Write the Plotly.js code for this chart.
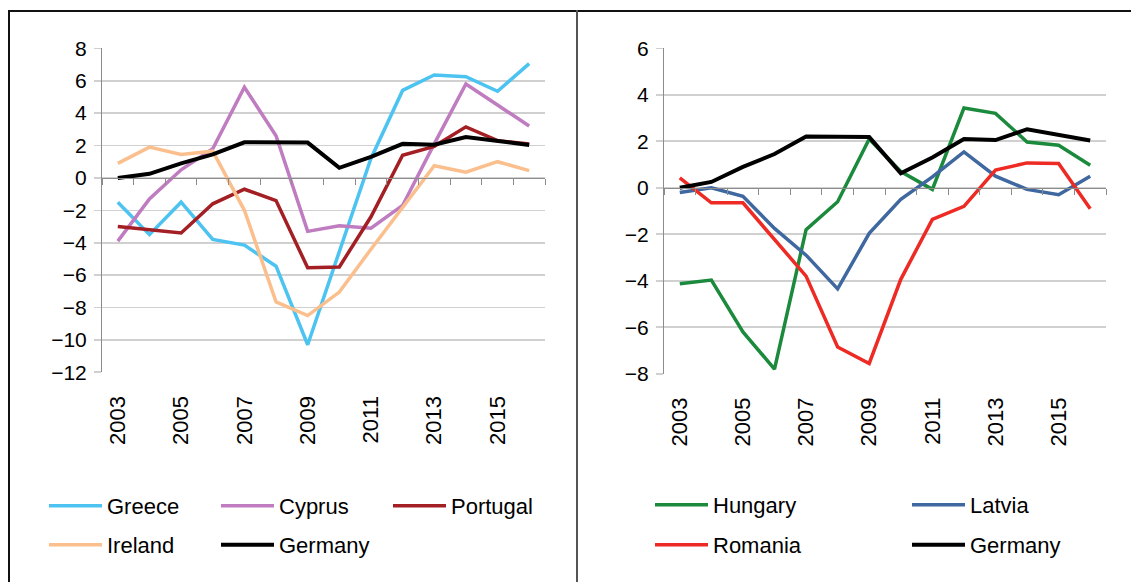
<!DOCTYPE html>
<html>
<head>
<meta charset="utf-8">
<script src="https://cdn.plot.ly/plotly-3.0.1.min.js"></script>
<style>
  html, body { margin: 0; padding: 0; background: #fff; }
  #wrap { position: relative; width: 1131px; height: 582px; overflow: hidden; }
  #chart { position: absolute; left: 0; top: 0; width: 1131px; height: 582px; }
  .bd { position: absolute; pointer-events: none; }
</style>
</head>
<body>
<div id="wrap">
  <div id="chart"></div>
  <div class="bd" style="left:8px; top:10px; width:1123px; height:2px; background:#111;"></div>
  <div class="bd" style="left:8px; top:10px; width:2px; height:572px; background:#111;"></div>
  <div class="bd" style="left:576px; top:10px; width:2px; height:572px; background:#555;"></div>
</div>
<script>
// ---- data ----
const years = [2003, 2004, 2005, 2006, 2007, 2008, 2009, 2010, 2011, 2012, 2013, 2014, 2015, 2016];
const yearLabels = ['2003', '2005', '2007', '2009', '2011', '2013', '2015'];
const labelYears = [2003, 2005, 2007, 2009, 2011, 2013, 2015];

const greece   = [-1.5, -3.5, -1.5, -3.8, -4.15, -5.45, -10.3, -4.6, 1.2, 5.4, 6.35, 6.25, 5.35, 7.05];
const cyprus   = [-3.9, -1.3, 0.5, 1.8, 5.6, 2.6, -3.3, -2.95, -3.1, -1.7, 2.1, 5.8, 4.5, 3.2];
const portugal = [-3.0, -3.2, -3.4, -1.6, -0.7, -1.4, -5.55, -5.5, -2.4, 1.4, 1.95, 3.15, 2.3, 2.1];
const ireland  = [0.9, 1.9, 1.45, 1.65, -2.0, -7.65, -8.5, -7.05, -4.4, -1.8, 0.75, 0.35, 1.0, 0.45];
const germany  = [0.0, 0.25, 0.9, 1.45, 2.2, 2.2, 2.18, 0.62, 1.3, 2.1, 2.05, 2.52, 2.28, 2.03];

const hungary  = [-4.13, -3.97, -6.2, -7.8, -1.8, -0.6, 2.1, 0.7, -0.07, 3.43, 3.2, 1.97, 1.83, 0.97];
const latvia   = [-0.2, 0.0, -0.37, -1.75, -2.9, -4.35, -1.96, -0.5, 0.47, 1.54, 0.5, -0.07, -0.3, 0.5];
const romania  = [0.43, -0.65, -0.65, -2.2, -3.8, -6.85, -7.56, -3.94, -1.36, -0.8, 0.76, 1.07, 1.04, -0.9];

const leftRange = [-12, 8];
const rightRange = [-8, 6];

// ---- layout geometry ----
const W = 1131, H = 582;
const px = v => v / W;
const py = v => 1 - v / H;
const leftX = [px(102), px(545)];
const rightX = [px(664), px(1106)];
const leftY = [py(372.3), py(48.3)];
const rightY = [py(373.7), py(48.3)];
const zeroPos = (dom, rng) => dom[0] + (0 - rng[0]) / (rng[1] - rng[0]) * (dom[1] - dom[0]);

const FONT = 'Liberation Sans, Arial, sans-serif';
const GRID = '#D0D0D0';
const AXIS = '#8C8C8C';

function line(name, y, color, xa, ya, legend, width, lw) {
  const t = { type: 'scatter', mode: 'lines', name: name, x: years, y: y,
    xaxis: xa, yaxis: ya, legend: legend,
    line: { color: color, width: width || 3.5 }, hoverinfo: 'x+y+name' };
  if (lw) t.legendwidth = lw;
  return t;
}
const nulls = years.map(() => null);

const traces = [
  line('Greece', greece, '#4CC3F1', 'x', 'y', 'legend'),
  line('Cyprus', cyprus, '#BF7CC0', 'x', 'y', 'legend'),
  line('Portugal', portugal, '#A31F24', 'x', 'y', 'legend', 3.5, 90),
  line('Ireland', ireland, '#FBBF8D', 'x', 'y', 'legend2'),
  line('Germany', germany, '#000000', 'x', 'y', 'legend2', 4, 90),
  line('Hungary', hungary, '#1C8A3C', 'x3', 'y2', 'legend3'),
  line('Latvia', latvia, '#3F67A0', 'x3', 'y2', 'legend3', 3.5, 95),
  line('Romania', romania, '#EE2A24', 'x3', 'y2', 'legend4'),
  line('Germany', germany, '#000000', 'x3', 'y2', 'legend4', 4, 95),
  { type: 'scatter', mode: 'lines', x: years, y: nulls, xaxis: 'x2', yaxis: 'y', showlegend: false, hoverinfo: 'skip' },
  { type: 'scatter', mode: 'lines', x: years, y: nulls, xaxis: 'x4', yaxis: 'y2', showlegend: false, hoverinfo: 'skip' }
];

const xRange = [years[0] - 0.5, years[years.length - 1] + 0.5];

function labelAxis(domain, anchor) {
  return { domain: domain, anchor: anchor, range: xRange, type: 'linear',
    tickmode: 'array', tickvals: labelYears, ticktext: yearLabels, tickangle: -90,
    showgrid: false, zeroline: false, showline: false, ticks: 'outside', ticklen: 14,
    tickcolor: 'rgba(0,0,0,0)', tickfont: { family: FONT, size: 22, color: '#000' },
    automargin: false, fixedrange: true };
}
function zeroAxis(overlay, pos) {
  return { overlaying: overlay, anchor: 'free', position: pos, range: xRange, type: 'linear',
    tickmode: 'linear', tick0: xRange[0], dtick: 1, ticks: 'outside', ticklen: 6,
    tickcolor: AXIS, tickwidth: 1, showline: true, linecolor: AXIS, linewidth: 1,
    showticklabels: false, showgrid: false, zeroline: false, fixedrange: true };
}
function valueAxis(domain, anchor, rng) {
  return { domain: domain, anchor: anchor, range: rng, tickmode: 'linear', tick0: 0, dtick: 2,
    showgrid: true, gridcolor: GRID, gridwidth: 1.6, zeroline: false,
    showline: true, linecolor: AXIS, linewidth: 1,
    ticks: 'outside', ticklen: 7, tickcolor: GRID, tickwidth: 1.6, ticklabelstandoff: 3,
    tickfont: { family: FONT, size: 21, color: '#000' }, automargin: false, fixedrange: true };
}
function legendAt(x, y, entry) {
  return { orientation: 'h', x: x, y: y, xanchor: 'left', yanchor: 'middle',
    itemwidth: 53, entrywidth: entry, entrywidthmode: 'pixels',
    font: { family: FONT, size: 22, color: '#000' },
    bgcolor: 'rgba(0,0,0,0)', borderwidth: 0, traceorder: 'normal', itemclick: false };
}

const layout = {
  width: W, height: H,
  margin: { l: 0, r: 0, t: 0, b: 0, pad: 0, autoexpand: false },
  paper_bgcolor: 'rgba(0,0,0,0)', plot_bgcolor: 'rgba(0,0,0,0)',
  showlegend: true,
  font: { family: FONT, color: '#000' },
  xaxis: labelAxis(leftX, 'y'),
  xaxis2: zeroAxis('x', zeroPos(leftY, leftRange)),
  xaxis3: labelAxis(rightX, 'y2'),
  xaxis4: zeroAxis('x3', zeroPos(rightY, rightRange)),
  yaxis: valueAxis(leftY, 'x', leftRange),
  yaxis2: valueAxis(rightY, 'x3', rightRange),
  legend: legendAt(px(44), py(506), 104),
  legend2: legendAt(px(44), py(545), 104),
  legend3: legendAt(px(650), py(505), 189),
  legend4: legendAt(px(650), py(545), 189)
};

Plotly.newPlot('chart', traces, layout, { displayModeBar: false, staticPlot: true });
</script>
</body>
</html>
